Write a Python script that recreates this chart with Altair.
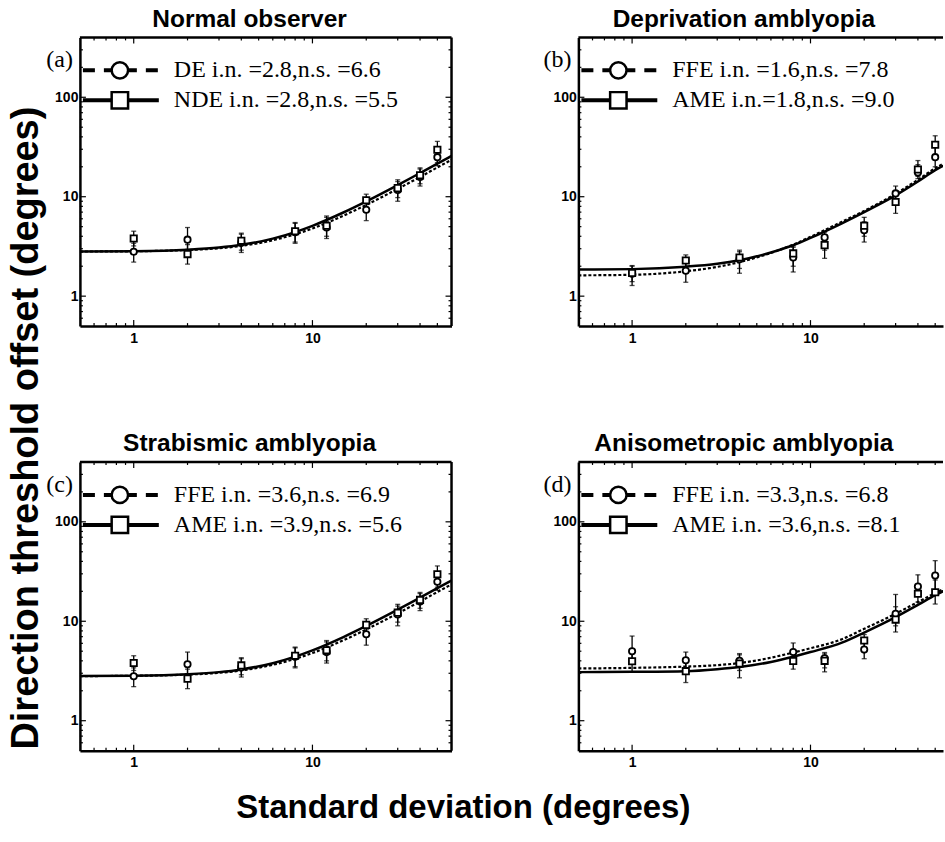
import altair as alt
import pandas as pd

# ---------------- data ----------------
SD = [1, 2, 4, 8, 12, 20, 30, 40, 50]
FIT_SD = [0.5, 1, 2, 3, 4, 6, 8, 10, 15, 20, 30, 40, 50, 60]

TITLES = ["Normal observer", "Deprivation amblyopia",
          "Strabismic amblyopia", "Anisometropic amblyopia"]
LETTERS = ["(a)", "(b)", "(c)", "(d)"]
LEG_DASHED = ["DE i.n. =2.8,n.s. =6.6", "FFE i.n. =1.6,n.s. =7.8",
              "FFE i.n. =3.6,n.s. =6.9", "FFE i.n. =3.3,n.s. =6.8"]
LEG_SOLID = ["NDE i.n. =2.8,n.s. =5.5", "AME i.n.=1.8,n.s. =9.0",
             "AME i.n. =3.9,n.s. =5.6", "AME i.n. =3.6,n.s. =8.1"]

# panel (a) normal observer: circles = DE, squares = NDE
A_CIRC = [2.8, 3.7, 3.45, 4.4, 4.9, 7.4, 11.7, 15.8, 25.0]
A_CIRC_LO = [2.2, 2.95, 2.75, 3.4, 3.8, 5.75, 9.0, 12.8, 20.5]
A_CIRC_HI = [3.4, 4.9, 4.2, 5.4, 6.2, 8.9, 14.2, 19.0, 31.0]
A_SQ = [3.8, 2.65, 3.6, 4.5, 5.1, 9.2, 12.2, 16.4, 29.7]
A_SQ_LO = [3.2, 2.1, 2.9, 3.5, 4.0, 7.6, 9.8, 13.5, 22.0]
A_SQ_HI = [4.5, 3.3, 4.3, 5.5, 6.4, 10.6, 14.8, 19.5, 36.0]
A_FIT_DASH = [2.81, 2.83, 2.91, 3.03, 3.2, 3.65, 4.19, 4.79, 6.48, 8.27, 12.0, 15.8, 19.7, 23.5]
A_FIT_SOLID = [2.81, 2.83, 2.93, 3.08, 3.28, 3.79, 4.41, 5.1, 6.98, 8.98, 13.1, 17.3, 21.5, 25.7]

# panel (b) deprivation amblyopia: circles = FFE, squares = AME
B_CIRC = [1.68, 1.8, 2.35, 2.45, 3.9, 4.6, 10.8, 17.5, 25.0]
B_CIRC_LO = [1.28, 1.38, 1.7, 1.75, 2.9, 3.5, 8.5, 15.2, 20.0]
B_CIRC_HI = [2.0, 2.2, 2.8, 3.1, 4.4, 5.6, 12.8, 21.0, 32.0]
B_SQ = [1.71, 2.28, 2.45, 2.69, 3.26, 5.1, 8.85, 18.8, 33.3]
B_SQ_LO = [1.4, 1.9, 1.9, 2.0, 2.4, 4.0, 6.8, 16.0, 26.0]
B_SQ_HI = [2.03, 2.6, 2.9, 3.2, 4.0, 6.2, 10.5, 23.1, 41.0]
B_FIT_DASH = [1.62, 1.64, 1.78, 1.97, 2.2, 2.72, 3.3, 3.95, 5.6, 7.2, 10.7, 14.8, 19.3, 23.0]
B_FIT_SOLID = [1.85, 1.87, 1.98, 2.12, 2.3, 2.75, 3.25, 3.85, 5.4, 7.0, 10.3, 14.2, 18.5, 22.0]

# panel (c) strabismic amblyopia
C_CIRC = [2.8, 3.7, 3.45, 4.4, 4.9, 7.4, 11.7, 15.8, 25.0]
C_CIRC_LO = [2.2, 2.95, 2.75, 3.4, 3.8, 5.75, 9.0, 12.8, 20.5]
C_CIRC_HI = [3.4, 4.9, 4.2, 5.4, 6.2, 8.9, 14.2, 19.0, 31.0]
C_SQ = [3.8, 2.65, 3.6, 4.5, 5.1, 9.2, 12.2, 16.4, 29.7]
C_SQ_LO = [3.2, 2.1, 2.9, 3.5, 4.0, 7.6, 9.8, 13.5, 22.0]
C_SQ_HI = [4.5, 3.3, 4.3, 5.5, 6.4, 10.6, 14.8, 19.5, 36.0]
C_FIT_DASH = [2.81, 2.83, 2.91, 3.03, 3.2, 3.65, 4.19, 4.79, 6.48, 8.27, 12.0, 15.8, 19.7, 23.5]
C_FIT_SOLID = [2.81, 2.83, 2.93, 3.08, 3.28, 3.79, 4.41, 5.1, 6.98, 8.98, 13.1, 17.3, 21.5, 25.7]

# panel (d) anisometropic amblyopia
D_CIRC = [4.99, 4.06, 4.0, 4.91, 4.25, 5.19, 11.9, 22.4, 28.8]
D_CIRC_LO = [3.9, 3.3, 3.2, 4.0, 3.4, 4.2, 9.0, 18.0, 20.0]
D_CIRC_HI = [7.1, 4.9, 4.73, 6.05, 4.85, 6.2, 18.6, 29.3, 40.7]
D_SQ = [3.96, 3.15, 3.76, 3.99, 4.0, 6.4, 10.4, 18.9, 19.6]
D_SQ_LO = [3.1, 2.42, 2.7, 3.3, 3.1, 5.3, 7.8, 15.6, 14.9]
D_SQ_HI = [5.0, 3.9, 4.6, 4.9, 4.7, 7.35, 14.0, 23.0, 26.0]
D_FIT_DASH = [3.35, 3.4, 3.5, 3.62, 3.8, 4.3, 4.85, 5.35, 6.6, 8.4, 11.9, 15.6, 19.2, 22.5]
D_FIT_SOLID = [3.08, 3.1, 3.15, 3.3, 3.47, 3.9, 4.4, 4.9, 6.1, 7.7, 11.0, 14.6, 18.3, 21.5]

X_MAJOR = [1, 10]
X_MINOR = [0.6, 0.7, 0.8, 0.9, 2, 3, 4, 5, 6, 7, 8, 9, 20, 30, 40, 50]
Y_MAJOR = [1, 10, 100]
Y_MINOR = [0.6, 0.7, 0.8, 0.9, 2, 3, 4, 5, 6, 7, 8, 9,
           20, 30, 40, 50, 60, 70, 80, 90, 200, 300]

PANELS = [
    (A_CIRC, A_CIRC_LO, A_CIRC_HI, A_SQ, A_SQ_LO, A_SQ_HI, A_FIT_DASH, A_FIT_SOLID),
    (B_CIRC, B_CIRC_LO, B_CIRC_HI, B_SQ, B_SQ_LO, B_SQ_HI, B_FIT_DASH, B_FIT_SOLID),
    (C_CIRC, C_CIRC_LO, C_CIRC_HI, C_SQ, C_SQ_LO, C_SQ_HI, C_FIT_DASH, C_FIT_SOLID),
    (D_CIRC, D_CIRC_LO, D_CIRC_HI, D_SQ, D_SQ_LO, D_SQ_HI, D_FIT_DASH, D_FIT_SOLID),
]

SANS = "Liberation Sans"
SERIF = "Liberation Serif"
H = 289
MAJ, MIN = 6, 3
FRAME_W = 2.5


def panel(i, right):
    circ, clo, chi, sq, slo, shi, fdash, fsolid = PANELS[i]
    W = 365 if right else 372
    xmax = 55.3 if right else 60
    xs = alt.Scale(type="log", domain=[0.5, xmax], nice=False)
    ys = alt.Scale(type="log", domain=[0.5, 400], nice=False)
    xaxis = alt.Axis(values=X_MAJOR, format="d", ticks=False, grid=False,
                     domainColor="black", domainWidth=FRAME_W, labelFont=SANS,
                     labelFontWeight="bold", labelFontSize=14, labelColor="black",
                     labelPadding=5, title=None)
    yaxis = alt.Axis(values=Y_MAJOR, format="d", ticks=False, grid=False,
                     domainColor="black", domainWidth=FRAME_W, labelFont=SANS,
                     labelFontWeight="bold", labelFontSize=14, labelColor="black",
                     labelPadding=2, title=None)
    X = lambda f: alt.X(f, scale=xs, axis=xaxis)
    Y = lambda f: alt.Y(f, scale=ys, axis=yaxis)

    pts = pd.DataFrame({
        "sd": SD + SD,
        "y": circ + sq,
        "lo": clo + slo,
        "hi": chi + shi,
        "s": ["c"] * len(SD) + ["q"] * len(SD),
    })
    fit = pd.DataFrame({"sd": FIT_SD, "dash": fdash, "solid": fsolid})

    layers = []
    layers.append(alt.Chart(fit).mark_line(color="black", strokeWidth=2.2,
                                           strokeDash=[3, 2], clip=True,
                                           interpolate="monotone")
                  .encode(x=X("sd:Q"), y=Y("dash:Q")))
    layers.append(alt.Chart(fit).mark_line(color="black", strokeWidth=2.5,
                                           clip=True, interpolate="monotone")
                  .encode(x=X("sd:Q"), y=Y("solid:Q")))
    base = alt.Chart(pts)
    layers.append(base.mark_rule(color="black", strokeWidth=1.3)
                  .encode(x=X("sd:Q"), y=Y("lo:Q"), y2="hi:Q"))
    layers.append(base.mark_tick(color="black", orient="horizontal", size=5,
                                 thickness=1.3)
                  .encode(x=X("sd:Q"), y=Y("lo:Q")))
    layers.append(base.mark_tick(color="black", orient="horizontal", size=5,
                                 thickness=1.3)
                  .encode(x=X("sd:Q"), y=Y("hi:Q")))
    layers.append(alt.Chart(pts[pts.s == "c"]).mark_point(
        shape="circle", size=40, fill="white", fillOpacity=1, stroke="black",
        strokeWidth=1.8, opacity=1).encode(x=X("sd:Q"), y=Y("y:Q")))
    layers.append(alt.Chart(pts[pts.s == "q"]).mark_point(
        shape="square", size=40, fill="white", fillOpacity=1, stroke="black",
        strokeWidth=1.8, opacity=1).encode(x=X("sd:Q"), y=Y("y:Q")))

    # inward tick marks on all sides
    xt = [(X_MAJOR, MAJ), ([v for v in X_MINOR if v < xmax], MIN)]
    for vals, L in xt:
        d = alt.Chart(pd.DataFrame({"v": vals}))
        layers.append(d.mark_rule(color="black", strokeWidth=1.2)
                      .encode(x=X("v:Q"), y=alt.value(H), y2=alt.value(H - L)))
        layers.append(d.mark_rule(color="black", strokeWidth=1.2)
                      .encode(x=X("v:Q"), y=alt.value(0), y2=alt.value(L)))
    for vals, L in [(Y_MAJOR, MAJ), (Y_MINOR, MIN)]:
        d = alt.Chart(pd.DataFrame({"v": vals}))
        layers.append(d.mark_rule(color="black", strokeWidth=1.2)
                      .encode(y=Y("v:Q"), x=alt.value(0), x2=alt.value(L)))
        if not right:
            layers.append(d.mark_rule(color="black", strokeWidth=1.2)
                          .encode(y=Y("v:Q"), x=alt.value(W), x2=alt.value(W - L)))

    one = alt.Chart(pd.DataFrame({"k": [0]}))
    layers.append(one.mark_rule(color="black", strokeWidth=FRAME_W)
                  .encode(x=alt.value(0), x2=alt.value(W), y=alt.value(0)))
    if not right:
        layers.append(one.mark_rule(color="black", strokeWidth=FRAME_W)
                      .encode(x=alt.value(W), y=alt.value(0), y2=alt.value(H)))

    # in-plot key
    ROW1, ROW2 = 33, 63
    layers.append(one.mark_rule(color="black", strokeWidth=4, strokeDash=[12, 9])
                  .encode(x=alt.value(3), x2=alt.value(79), y=alt.value(ROW1)))
    layers.append(one.mark_rule(color="black", strokeWidth=4)
                  .encode(x=alt.value(3), x2=alt.value(79), y=alt.value(ROW2)))
    layers.append(one.mark_point(shape="circle", size=270, fill="white",
                                 fillOpacity=1, stroke="black", strokeWidth=2.5,
                                 opacity=1)
                  .encode(x=alt.value(40), y=alt.value(ROW1)))
    layers.append(one.mark_point(shape="square", size=270, fill="white",
                                 fillOpacity=1, stroke="black", strokeWidth=2.5,
                                 opacity=1)
                  .encode(x=alt.value(40), y=alt.value(ROW2)))
    layers.append(alt.Chart(pd.DataFrame({"t": [LEG_DASHED[i]]}))
                  .mark_text(font=SERIF, fontSize=24, align="left",
                             baseline="middle", color="black")
                  .encode(text="t:N", x=alt.value(94), y=alt.value(ROW1)))
    layers.append(alt.Chart(pd.DataFrame({"t": [LEG_SOLID[i]]}))
                  .mark_text(font=SERIF, fontSize=24, align="left",
                             baseline="middle", color="black")
                  .encode(text="t:N", x=alt.value(94), y=alt.value(ROW2)))
    layers.append(alt.Chart(pd.DataFrame({"t": [LETTERS[i]]}))
                  .mark_text(font=SERIF, fontSize=24, align="right",
                             baseline="middle", color="black")
                  .encode(text="t:N", x=alt.value(-7), y=alt.value(23)))

    return alt.layer(*layers).properties(
        width=W, height=H,
        title=alt.TitleParams(TITLES[i], font=SANS, fontSize=24.5,
                              fontWeight="bold", color="black",
                              anchor="middle", frame="bounds", offset=4),
    )


row1 = alt.hconcat(panel(0, False), panel(1, True), spacing=90)
row2 = alt.hconcat(panel(2, False), panel(3, True), spacing=90)
inner = alt.vconcat(
    row1, row2, spacing=86,
    title=alt.TitleParams("Direction threshold offset (degrees)", orient="left",
                          font=SANS, fontSize=38, fontWeight="bold",
                          color="black", anchor="middle", offset=0, dx=-40),
)
chart = alt.vconcat(
    inner,
    title=alt.TitleParams("Standard deviation (degrees)", orient="bottom",
                          font=SANS, fontSize=33, fontWeight="bold",
                          color="black", anchor="middle", offset=22, dx=-13),
).properties(
    padding={"left": 8, "top": 6, "right": 0, "bottom": 5},
    background="white",
).configure_view(stroke=None)

chart.save("out.html", embed_options={"renderer": "svg", "actions": False})
